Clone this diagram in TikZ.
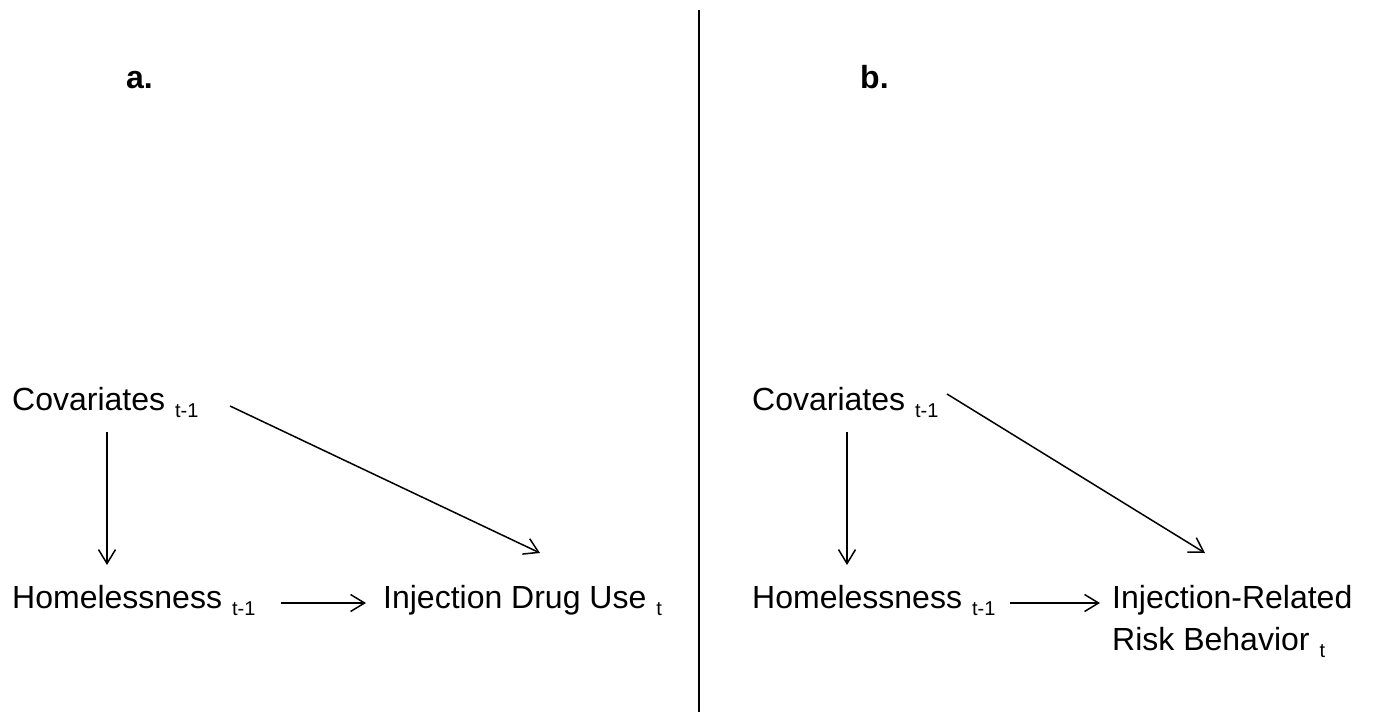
\documentclass[tikz,border=0pt]{standalone}
\usepackage{fontspec}
\setmainfont{Liberation Sans}
\usetikzlibrary{arrows.meta,calc}
\newcommand\mysub[1]{\hspace{10pt}\raisebox{-7pt}{\fontsize{20}{22}\selectfont #1}}
\begin{document}
\begin{tikzpicture}[x=1pt,y=-1pt,
  lbl/.style={inner sep=0pt, anchor=base west, font=\fontsize{32}{42}\selectfont},
  lbltwo/.style={inner sep=0pt, anchor=north west, align=left, font=\fontsize{32}{42}\selectfont},
  panel/.style={inner sep=0pt, anchor=base west, font=\fontsize{32}{38}\selectfont\bfseries},
  arr/.style={line width=1.5pt, -{Straight Barb[length=14pt,width=17pt,line width=1.5pt]}},
  sepline/.style={line width=1.5pt}]
\fill[white] (0,0) rectangle (1374,712);
\useasboundingbox (0,0) rectangle (1374,712);
% panel labels
\node[panel] (la) at (126,88) {a.};
\node[panel] (lb) at (860,88) {b.};
% separator
\draw[sepline] (699,10) -- (699,712);
% panel a
\node[lbl] (covA) at (12,410) {Covariates\mysub{t-1}};
\node[lbl] (homA) at (12,608) {Homelessness\mysub{t-1}};
\node[lbl] (idu) at (383,608) {Injection Drug Use\mysub{t}};
\draw[arr] ($(covA.base west)+(95,22)$) -- ($(homA.base west)+(95,-43)$);
\draw[arr] ($(covA.base west)+(218,-4)$) -- ($(idu.base west)+(157,-55)$);
\draw[arr] ($(homA.base west)+(269,-5)$) -- ($(idu.base west)+(-17,-5)$);
% panel b
\node[lbl] (covB) at (752,410) {Covariates\mysub{t-1}};
\node[lbl] (homB) at (752,608) {Homelessness\mysub{t-1}};
\node[lbltwo] (irb) at (1112,585) {Injection-Related\\Risk Behavior\mysub{t}};
\draw[arr] ($(covB.base west)+(95,22)$) -- ($(homB.base west)+(95,-43)$);
\draw[arr] ($(covB.base west)+(195,-16)$) -- ($(irb.north west)+(93,-32)$);
\draw[arr] ($(homB.base west)+(258,-5)$) -- ($(irb.north west)+(-12,18)$);
\end{tikzpicture}
\end{document}
